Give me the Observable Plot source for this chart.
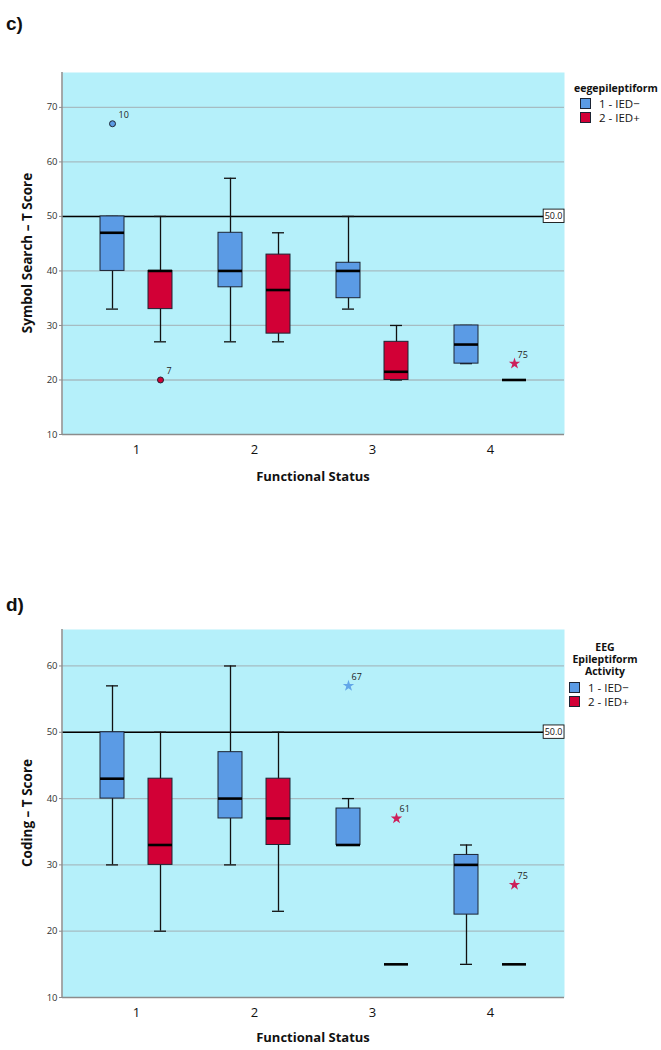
<!DOCTYPE html>
<html>
<head>
<meta charset="utf-8">
<script src="https://cdn.jsdelivr.net/npm/d3@7"></script>
<script src="https://cdn.jsdelivr.net/npm/@observablehq/plot@0.6"></script>
<style>
  body { margin: 0; background: #fff; font-family: "Open Sans", "Noto Sans", sans-serif; }
  #page { position: relative; width: 661px; height: 1050px; overflow: hidden; }
  .abs { position: absolute; white-space: nowrap; }
  .panel { font-family: "Liberation Sans", Arial, sans-serif; font-weight: bold; font-size: 19px; color: #111; }
  .ytitle { font-weight: bold; font-size: 13.5px; color: #111; transform: translate(-50%, -50%) rotate(-90deg); }
  .xtitle { font-weight: bold; font-size: 13px; color: #111; transform: translate(-50%, -50%); }
  .legtitle { font-weight: bold; font-size: 10.5px; color: #111; line-height: 12px; text-align: center; }
  .legitem { font-size: 11.5px; color: #111; display: flex; align-items: center; height: 14px; }
  .sw { display: inline-block; width: 9px; height: 9px; border: 1px solid #1c2433; margin-right: 8px; }
</style>
</head>
<body>
<div id="page"></div>
<script>
// ---------- data ----------
const statuses = [1, 2, 3, 4];
const groups = ["1 - IED\u2212", "2 - IED+"];
const refValue = 50;

// Panel c: Symbol Search - T Score
const cNegLo  = [33, 27, 33, 23];
const cNegQ1  = [40, 37, 35, 23];
const cNegMed = [47, 40, 40, 26.5];
const cNegQ3  = [50, 47, 41.5, 30];
const cNegHi  = [50, 57, 50, 30];
const cPosLo  = [27, 27, 20, 20];
const cPosQ1  = [33, 28.5, 20, 20];
const cPosMed = [40, 36.5, 21.5, 20];
const cPosQ3  = [40, 43, 27, 20];
const cPosHi  = [50, 47, 30, 20];
const cOutStatus = [1, 1, 4];
const cOutGroup  = [0, 1, 1];
const cOutValue  = [67, 20, 23];
const cOutLabel  = ["10", "7", "75"];
const cOutKind   = ["circle", "circle", "star"];
const cYTicks = [10, 20, 30, 40, 50, 60, 70];
const cYMax = 76.4;

// Panel d: Coding - T Score
const dNegLo  = [30, 30, 33, 15];
const dNegQ1  = [40, 37, 33, 22.5];
const dNegMed = [43, 40, 33, 30];
const dNegQ3  = [50, 47, 38.5, 31.5];
const dNegHi  = [57, 60, 40, 33];
const dPosLo  = [20, 23, 15, 15];
const dPosQ1  = [30, 33, 15, 15];
const dPosMed = [33, 37, 15, 15];
const dPosQ3  = [43, 43, 15, 15];
const dPosHi  = [50, 50, 15, 15];
const dOutStatus = [3, 3, 4];
const dOutGroup  = [0, 1, 1];
const dOutValue  = [57, 37, 27];
const dOutLabel  = ["67", "61", "75"];
const dOutKind   = ["star", "star", "star"];
const dYTicks = [10, 20, 30, 40, 50, 60];
const dYMax = 65.5;

// ---------- style ----------
const BG = "#B5F0FA", GRID = "#A6BCC2", AXIS = "#8c8c8c";
const BLUE = "#5B9BE5", RED = "#D20036", BOXSTROKE = "#1c2433";
const STAR = ["#62A6E8", "#CC1F5A"];
const COLORS = [BLUE, RED];
const OFFS = [-24, 24];
const ML = 62, MR = 97, W = 661;

function rows(lo, q1, med, q3, hi) {
  return statuses.map((s, i) => ({status: s, lo: lo[i], q1: q1[i], med: med[i], q3: q3[i], hi: hi[i]}));
}
function outs(st, gr, val, lab, kind) {
  return st.map((s, i) => ({status: s, group: gr[i], value: val[i], label: lab[i], kind: kind[i]}));
}

function makePanel({boxes, outliers, yTicks, yMax, height, marginTop, marginBottom}) {
  const marks = [
    Plot.frame({fill: BG, stroke: null}),
    Plot.ruleY(yTicks.filter(t => t > 10), {stroke: GRID, strokeWidth: 1.3}),
    Plot.ruleY([10], {stroke: AXIS, strokeWidth: 1.5}),
    Plot.ruleY([refValue], {stroke: "#000", strokeWidth: 1.5})
  ];
  boxes.forEach((data, g) => {
    const dx = OFFS[g];
    marks.push(
      Plot.ruleX(data, {x: "status", y1: "lo", y2: "hi", dx, stroke: "#111", strokeWidth: 1.3}),
      Plot.tickY(data, {x: "status", y: "lo", dx, insetLeft: 6, insetRight: 6, stroke: "#111", strokeWidth: 1.3}),
      Plot.tickY(data, {x: "status", y: "hi", dx, insetLeft: 6, insetRight: 6, stroke: "#111", strokeWidth: 1.3}),
      Plot.barY(data, {x: "status", y1: "q1", y2: "q3", dx, fill: COLORS[g], stroke: BOXSTROKE, strokeWidth: 1}),
      Plot.tickY(data, {x: "status", y: "med", dx, stroke: "#000", strokeWidth: 2.6})
    );
    const circ = outliers.filter(d => d.group === g && d.kind === "circle");
    const star = outliers.filter(d => d.group === g && d.kind === "star");
    marks.push(
      Plot.dot(circ, {x: "status", y: "value", dx, r: 3, fill: COLORS[g], stroke: BOXSTROKE, strokeWidth: 1}),
      Plot.text(circ, {x: "status", y: "value", text: "label", dx: dx + 6, dy: -9, textAnchor: "start", fontSize: 9, fill: "#222"}),
      Plot.dot(star, {x: "status", y: "value", dx, r: 3.6, symbol: "star", fill: STAR[g], stroke: null}),
      Plot.text(star, {x: "status", y: "value", text: "label", dx: dx + 3, dy: -9, textAnchor: "start", fontSize: 9, fill: "#222"})
    );
  });
  marks.push(
    Plot.text([refValue], {y: d => d, text: d => d.toFixed(1), frameAnchor: "right", textAnchor: "end", dx: -2, fontSize: 9, fill: "#111"}),
    Plot.axisY({ticks: yTicks, tickSize: 3, tickPadding: 2, fontSize: 9.5, stroke: AXIS, fill: "#333", label: null}),
    Plot.axisX({tickSize: 0, tickPadding: 10, fontSize: 13, fill: "#111", label: null})
  );
  const chart = Plot.plot({
    width: W, height, marginTop, marginBottom, marginLeft: ML, marginRight: MR,
    style: {fontFamily: "'Open Sans', sans-serif", background: "transparent", overflow: "visible"},
    x: {type: "band", domain: statuses, paddingInner: 0.798, paddingOuter: 0.514},
    y: {domain: [10, yMax]},
    marks
  });
  return chart;
}

function decorate(chart, yMax) {
  const svg = d3.select(chart);
  const y = chart.scale("y");
  svg.append("line")
    .attr("x1", ML).attr("x2", ML).attr("y1", y.apply(10)).attr("y2", y.apply(yMax))
    .attr("stroke", AXIS).attr("stroke-width", 1.5);
  svg.selectAll("text").filter(function () { return this.textContent === refValue.toFixed(1); })
    .each(function () {
      const bb = this.getBBox();
      d3.select(this.parentNode).insert("rect", () => this)
        .attr("transform", this.getAttribute("transform"))
        .attr("x", bb.x - 1.5).attr("y", bb.y - 0.2).attr("width", bb.width + 3).attr("height", bb.height + 0.4)
        .attr("fill", "#fff").attr("stroke", "#111").attr("stroke-width", 0.9);
    });
}

const page = document.getElementById("page");
function place(el, left, top) {
  const w = document.createElement("div");
  w.className = "abs"; w.style.left = left + "px"; w.style.top = top + "px";
  w.appendChild(el); page.appendChild(w); return w;
}
function label(cls, text, left, top) {
  const d = document.createElement("div");
  d.className = "abs " + cls; d.style.left = left + "px"; d.style.top = top + "px";
  d.innerHTML = text; page.appendChild(d); return d;
}
function legendItems(left, top) {
  groups.forEach((g, i) => {
    label("legitem", `<span class="sw" style="background:${COLORS[i]}"></span>${g}`, left, top + i * 14.5);
  });
}

// ---------- panel c ----------
const chartC = makePanel({
  boxes: [rows(cNegLo, cNegQ1, cNegMed, cNegQ3, cNegHi), rows(cPosLo, cPosQ1, cPosMed, cPosQ3, cPosHi)],
  outliers: outs(cOutStatus, cOutGroup, cOutValue, cOutLabel, cOutKind),
  yTicks: cYTicks, yMax: cYMax, height: 470, marginTop: 72, marginBottom: 36
});
place(chartC, 0, 0);
decorate(chartC, cYMax);
label("panel", "c)", 6, 13);
label("ytitle", "Symbol Search \u2013 T Score", 27, 253);
label("xtitle", "Functional Status", 313, 476);
label("legtitle", "eegepileptiform", 574, 82);
legendItems(580, 96);

// ---------- panel d ----------
const chartD = makePanel({
  boxes: [rows(dNegLo, dNegQ1, dNegMed, dNegQ3, dNegHi), rows(dPosLo, dPosQ1, dPosMed, dPosQ3, dPosHi)],
  outliers: outs(dOutStatus, dOutGroup, dOutValue, dOutLabel, dOutKind),
  yTicks: dYTicks, yMax: dYMax, height: 473, marginTop: 69, marginBottom: 36
});
place(chartD, 0, 560);
decorate(chartD, dYMax);
label("panel", "d)", 6, 594);
label("ytitle", "Coding \u2013 T Score", 27, 813);
label("xtitle", "Functional Status", 313, 1037);
const lt = label("legtitle", "EEG<br>Epileptiform<br>Activity", 605, 641);
lt.style.transform = "translateX(-50%)";
legendItems(569, 680);
</script>
</body>
</html>
